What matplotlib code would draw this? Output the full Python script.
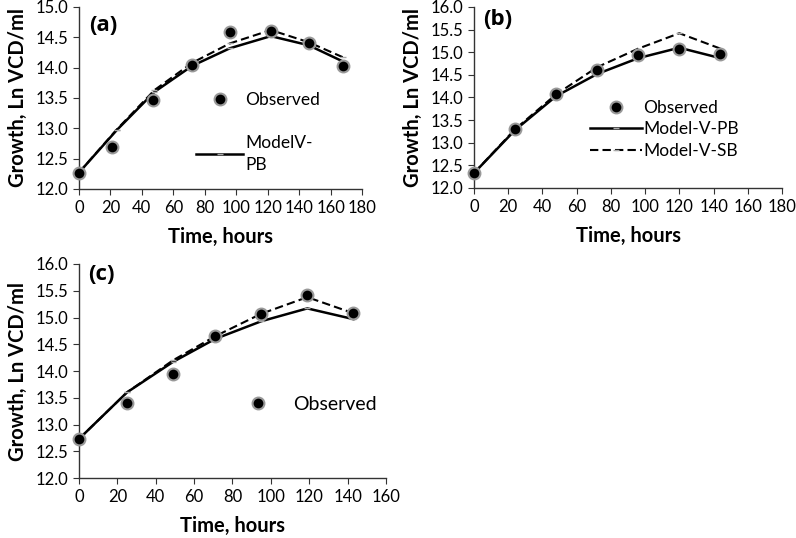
import matplotlib.pyplot as plt

# panel (a)
t_a = [0, 21, 47, 72, 96, 122, 146, 168]
obs_a = [12.27, 12.70, 13.47, 14.04, 14.58, 14.60, 14.40, 14.03]
tm_a = [0, 24, 48, 72, 96, 122, 146, 168]
pb_a = [12.27, 12.97, 13.60, 14.03, 14.32, 14.52, 14.37, 14.10]
sb_a = [12.27, 12.98, 13.63, 14.08, 14.40, 14.62, 14.42, 14.17]

# panel (b)
t_b = [0, 24, 48, 72, 96, 120, 144]
obs_b = [12.33, 13.30, 14.07, 14.60, 14.93, 15.07, 14.97]
pb_b = [12.33, 13.28, 14.03, 14.52, 14.87, 15.10, 14.87]
sb_b = [12.33, 13.30, 14.07, 14.67, 15.08, 15.42, 15.08]

# panel (c)
t_c = [0, 25, 49, 71, 95, 119, 143]
obs_c = [12.73, 13.40, 13.95, 14.65, 15.07, 15.42, 15.08]
pb_c = [12.73, 13.60, 14.17, 14.60, 14.93, 15.17, 14.97]
sb_c = [12.73, 13.60, 14.20, 14.65, 15.07, 15.38, 15.08]

plt.rcParams['font.family'] = ['Lato', 'DejaVu Sans']

fig = plt.figure(figsize=(7.96, 5.38), dpi=100)

def setup(ax, ymax, xmax, letter, lx, ly):
    for s in ['top', 'right']:
        ax.spines[s].set_visible(False)
    for s in ['left', 'bottom']:
        ax.spines[s].set_color('#333333')
        ax.spines[s].set_linewidth(1.0)
    ax.tick_params(direction='out', length=4, color='#333333', labelsize=12, pad=4)
    ax.set_xlim(0, xmax)
    ax.set_ylim(12.0, ymax)
    ax.set_xticks(range(0, xmax + 1, 20))
    yt = [12.0 + 0.5 * i for i in range(int((ymax - 12.0) / 0.5) + 1)]
    ax.set_yticks(yt)
    ax.set_yticklabels(['%.1f' % v for v in yt])
    ax.set_xlabel('Time, hours', fontsize=14.5, fontweight='bold', labelpad=8)
    ax.set_ylabel('Growth, Ln VCD/ml', fontsize=14.5, fontweight='bold', labelpad=5)
    ax.text(lx, ly, letter, transform=ax.transAxes, fontsize=16, fontweight='bold', va='center',
            family=['Open Sans', 'DejaVu Sans'])

def draw(ax, tm, pb, sb, t, obs):
    l_pb, = ax.plot(tm, pb, color='black', lw=1.8, marker='_', ms=5, mec='#aaaaaa')
    l_sb, = ax.plot(tm, sb, color='black', lw=1.5, ls=(0, (4, 2)), marker='_', ms=5, mec='#aaaaaa')
    l_obs, = ax.plot(t, obs, ls='none', marker='o', ms=8.5, mfc='black', mec='#999999', mew=1.5, clip_on=False, zorder=5)
    return l_obs, l_pb, l_sb

ax1 = fig.add_axes([0.0992, 0.6487, 0.3556, 0.3383])
setup(ax1, 15.0, 180, '(a)', 0.035, 0.90)
o, p, s = draw(ax1, tm_a, pb_a, sb_a, t_a, obs_a)
leg = ax1.legend([o, p], ['Observed', 'ModelV-\nPB'], loc='upper left', bbox_to_anchor=(0.36, 0.62),
                 frameon=False, fontsize=12.5, handlelength=2.7, labelspacing=1.55, handletextpad=0.1)
leg.get_texts()[1].set_linespacing(1.45)

ax2 = fig.add_axes([0.5955, 0.6506, 0.3869, 0.3364])
setup(ax2, 16.0, 180, '(b)', 0.03, 0.93)
o, p, s = draw(ax2, t_b, pb_b, sb_b, t_b, obs_b)
ax2.legend([o, p, s], ['Observed', 'Model-V-PB', 'Model-V-SB'], loc='upper left', bbox_to_anchor=(0.326, 0.574),
           frameon=False, fontsize=12.5, handlelength=3.0, labelspacing=0.32, handletextpad=0.05)

ax3 = fig.add_axes([0.0992, 0.1115, 0.3857, 0.3978])
setup(ax3, 16.0, 160, '(c)', 0.03, 0.95)
o, p, s = draw(ax3, t_c, pb_c, sb_c, t_c, obs_c)
ax3.legend([o], ['Observed'], loc='upper left', bbox_to_anchor=(0.45, 0.465),
           frameon=False, fontsize=14, handlelength=2.4, handletextpad=0.6)

fig.savefig('out.png', dpi=100)
